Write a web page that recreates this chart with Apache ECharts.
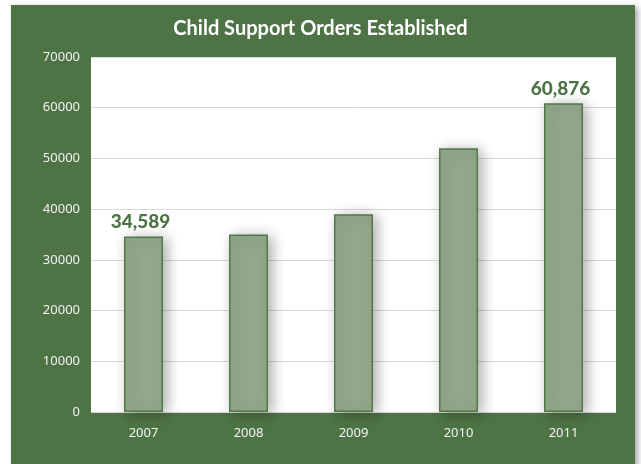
<!DOCTYPE html>
<html>
<head>
<meta charset="utf-8">
<script src="https://cdn.jsdelivr.net/npm/echarts@6/dist/echarts.min.js"></script>
<style>
  html, body { margin: 0; padding: 0; background: #ffffff; }
  #chart { width: 641px; height: 464px; }
</style>
</head>
<body>
<div id="chart"></div>
<script>
// Child support orders established per fiscal year
const years = ['2007', '2008', '2009', '2010', '2011'];
const orders = [34589, 35000, 39000, 52000, 60876];
// Only the first and last years carry a printed value
const labelledYears = ['2007', '2011'];
const yTicks = [0, 10000, 20000, 30000, 40000, 50000, 60000, 70000];

const GREEN = '#4e7445';
const BAR_FILL = '#93a88a';
const BAR_EDGE = '#52784a';

const chart = echarts.init(document.getElementById('chart'), null, { renderer: 'canvas' });

chart.setOption({
  backgroundColor: '#ffffff',
  animation: false,
  graphic: [
    {
      type: 'rect',
      z: -10,
      shape: { x: 11, y: 5, width: 624, height: 470 },
      style: {
        fill: GREEN,
        shadowBlur: 6,
        shadowOffsetX: 3,
        shadowOffsetY: 2,
        shadowColor: 'rgba(0,0,0,0.35)'
      },
      silent: true
    }
  ],
  title: {
    text: 'Child Support Orders Established',
    left: 'center',
    top: 14,
    textStyle: {
      color: '#ffffff',
      fontFamily: 'Lato',
      fontWeight: 'bold',
      fontSize: 20
    }
  },
  grid: {
    left: 91,
    right: 25,
    top: 57,
    bottom: 52,
    show: true,
    backgroundColor: '#ffffff',
    borderWidth: 0
  },
  xAxis: {
    type: 'category',
    data: years,
    axisLine: { show: false },
    axisTick: { show: false },
    axisLabel: {
      color: '#f2f2f2',
      fontFamily: 'Noto Sans',
      fontSize: 13,
      margin: 15
    }
  },
  yAxis: {
    type: 'value',
    min: yTicks[0],
    max: yTicks[yTicks.length - 1],
    interval: 10000,
    axisLine: { show: false },
    axisTick: { show: false },
    axisLabel: {
      color: '#f2f2f2',
      fontFamily: 'Noto Sans',
      fontSize: 13,
      margin: 11,
      formatter: v => String(v)
    },
    splitLine: { lineStyle: { color: '#d9d9d9', width: 1 } }
  },
  series: [
    {
      type: 'bar',
      data: orders.map((v, i) => ({
        value: v,
        label: { show: labelledYears.includes(years[i]) }
      })),
      barWidth: 39,
      itemStyle: {
        color: BAR_FILL,
        borderColor: BAR_EDGE,
        borderWidth: 1.5,
        shadowBlur: 14,
        shadowOffsetX: 4,
        shadowOffsetY: 2,
        shadowColor: 'rgba(0,0,0,0.32)'
      },
      label: {
        position: 'top',
        distance: 5,
        offset: [-3, 0],
        color: '#4e7446',
        fontFamily: 'Lato',
        fontWeight: 900,
        fontSize: 19,
        formatter: p => p.value.toLocaleString('en-US')
      }
    }
  ]
});
</script>
</body>
</html>
